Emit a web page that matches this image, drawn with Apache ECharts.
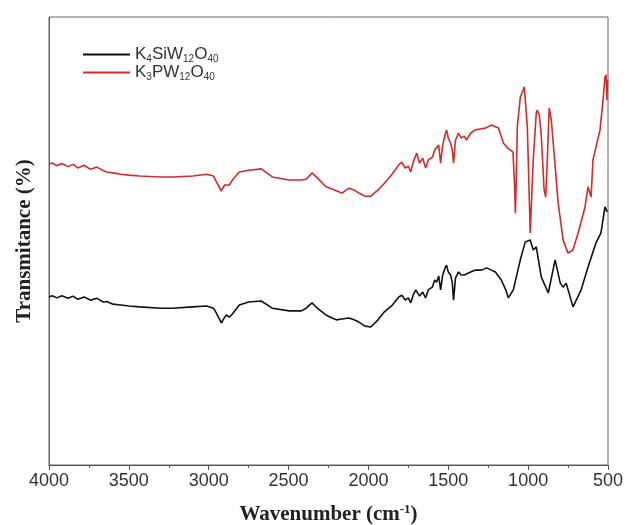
<!DOCTYPE html>
<html><head><meta charset="utf-8">
<script src="https://cdn.jsdelivr.net/npm/echarts@6/dist/echarts.min.js"></script>
<style>html,body{margin:0;padding:0;background:#fff}#c{width:626px;height:525px}</style>
</head><body><div id="c"></div>
<script>
// Wavenumber (cm-1) and transmittance (arbitrary %, offset spectra)
const xTicks = [4000, 3500, 3000, 2500, 2000, 1500, 1000, 500];
const seriesNames = ['K4SiW12O40', 'K3PW12O40'];

const siwWn = [4000,3980,3950,3920,3880,3850,3820,3780,3740,3700,3660,3638,3600,3550,3500,3432,3300,3226,3100,3014,2970,2952,2921,2900,2889,2871,2852,2808,2750,2671,2602,2496,2420,2390,2353,2320,2266,2228,2200,2166,2122,2090,2060,2020,1985,1940,1900,1850,1810,1790,1770,1750,1735,1720,1704,1680,1660,1642,1625,1600,1585,1573,1560,1548,1535,1520,1511,1500,1486,1475,1467,1455,1436,1420,1400,1392,1360,1330,1292,1260,1230,1205,1168,1140,1124,1093,1049,1018,987,968,949,918,874,831,799,781,762,719,668,625,575,544,519,512,505];
const siwT = [37.5,37.8,37.3,37.8,37.2,37.7,37.0,37.5,36.8,37.2,36.4,36.5,35.9,35.7,35.5,35.3,35.0,35.0,35.3,35.5,35.0,33.9,31.7,33.0,33.5,33.0,33.7,35.7,36.4,36.6,35.0,34.4,34.4,35.0,36.2,35.0,33.5,32.8,32.4,32.6,32.8,32.4,31.9,31.0,30.8,32.4,34.2,35.7,37.5,37.9,36.8,37.3,36.2,37.9,39.1,37.7,38.6,37.3,39.1,39.7,41.3,40.8,42.2,39.1,42.4,44.0,44.6,43.1,42.4,40.8,36.8,41.7,43.1,42.4,42.4,42.0,43.1,43.5,43.5,44.0,43.5,43.1,41.3,39.1,37.3,39.1,45.8,49.8,50.2,48.0,48.7,42.0,38.4,45.8,40.6,39.7,40.6,35.3,39.1,44.2,49.6,51.8,57.6,58.0,56.5];

const pwWn = [4000,3980,3950,3920,3880,3850,3820,3780,3740,3700,3660,3638,3600,3550,3500,3432,3300,3226,3100,3014,2970,2952,2921,2900,2889,2871,2852,2808,2750,2671,2602,2496,2420,2390,2353,2320,2266,2200,2166,2122,2090,2060,2020,1985,1940,1900,1850,1810,1791,1770,1750,1735,1720,1698,1680,1660,1642,1625,1600,1585,1573,1560,1548,1535,1520,1511,1500,1486,1475,1467,1455,1436,1420,1400,1386,1360,1330,1300,1267,1230,1186,1155,1130,1111,1095,1085,1080,1075,1068,1049,1024,1005,987,968,949,943,930,918,900,890,880,868,855,843,812,781,750,720,687,644,625,606,594,575,550,531,519,512,507,503];
const pwT = [67.2,67.4,66.8,67.3,66.6,67.1,66.3,66.9,66.0,66.5,65.7,65.4,65.2,64.9,64.7,64.5,64.3,64.3,64.5,64.9,64.5,63.2,61.2,62.5,62.9,62.5,63.6,65.4,65.8,66.1,64.3,63.6,63.6,63.8,65.2,64.1,62.1,61.2,60.7,61.8,61.4,60.7,60.0,60.0,61.4,62.9,65.0,67.0,67.6,66.3,66.7,65.4,67.6,69.6,67.4,68.5,66.3,68.1,68.7,70.3,69.9,71.4,67.4,71.4,73.7,74.8,73.0,71.9,70.3,67.4,72.5,74.1,73.0,73.4,72.5,74.1,74.8,75.0,75.2,75.9,75.2,71.9,70.8,70.3,69.9,62.5,56.2,62.5,75.4,82.1,84.4,75.4,51.8,68.1,78.6,79.2,78.1,73.7,61.4,59.8,68.1,79.7,77.0,71.9,58.5,50.2,47.3,48.0,51.8,57.6,62.1,59.8,68.1,71.0,74.8,81.5,86.6,87.1,81.5,85.9];

const zip = (a, b) => a.map((v, i) => [v, b[i]]);
const legendRich = {
  'K4SiW12O40': '{n|K}{s|4}{n|SiW}{s|12}{n|O}{s|40}',
  'K3PW12O40': '{n|K}{s|3}{n|PW}{s|12}{n|O}{s|40}'
};

const chart = echarts.init(document.getElementById('c'), null, {renderer: 'canvas'});
chart.setOption({
  animation: false,
  backgroundColor: '#fff',
  grid: {left: 49, right: 18, top: 17, bottom: 60, show: true, borderColor: '#666', borderWidth: 1,
         outerBoundsMode: 'none', containLabel: false},
  legend: {
    orient: 'vertical', left: 78, top: 40, itemWidth: 47, itemHeight: 2, itemGap: -1,
    icon: 'rect',
    data: seriesNames,
    formatter: n => legendRich[n],
    textStyle: {
      rich: {
        n: {fontFamily: 'Liberation Sans', fontSize: 17, color: '#333', verticalAlign: 'middle', lineHeight: 17},
        s: {fontFamily: 'Liberation Sans', fontSize: 10, color: '#333', verticalAlign: 'middle', lineHeight: 10, padding: [9, 0, 0, 0]}
      }
    }
  },
  xAxis: {
    type: 'value', inverse: true, min: 500, max: 4000, interval: 500,
    axisLine: {lineStyle: {color: '#555', width: 1}},
    axisTick: {show: true, length: 5, lineStyle: {color: '#555'}},
    minorTick: {show: true, splitNumber: 2, length: 3, lineStyle: {color: '#555'}},
    splitLine: {show: false},
    axisLabel: {fontFamily: 'Liberation Sans', fontSize: 18, color: '#333', margin: 7, formatter: v => String(v)},
    name: 'Wavenumber (cm{sup|-1})', nameLocation: 'middle', nameGap: 38,
    nameTextStyle: {fontFamily: 'Liberation Serif', fontWeight: 'bold', fontSize: 21, color: '#222',
      rich: {sup: {fontFamily: 'Liberation Serif', fontWeight: 'bold', fontSize: 13, color: '#222', verticalAlign: 'top', padding: [0, 0, 10, 0]}}}
  },
  yAxis: {
    type: 'value', min: 0, max: 100,
    axisLine: {show: true, lineStyle: {color: '#666'}},
    axisTick: {show: false}, axisLabel: {show: false}, splitLine: {show: false},
    name: 'Transmitance (%)', nameLocation: 'middle', nameGap: 14,
    nameTextStyle: {fontFamily: 'Liberation Serif', fontWeight: 'bold', fontSize: 21, color: '#222'}
  },
  series: [
    {name: seriesNames[0], type: 'line', data: zip(siwWn, siwT), symbol: 'none', smooth: false,
     lineStyle: {color: '#111', width: 1.6}, itemStyle: {color: '#111'}},
    {name: seriesNames[1], type: 'line', data: zip(pwWn, pwT), symbol: 'none', smooth: false,
     lineStyle: {color: '#d42a2a', width: 1.6}, itemStyle: {color: '#d42a2a'}}
  ]
});
</script></body></html>
